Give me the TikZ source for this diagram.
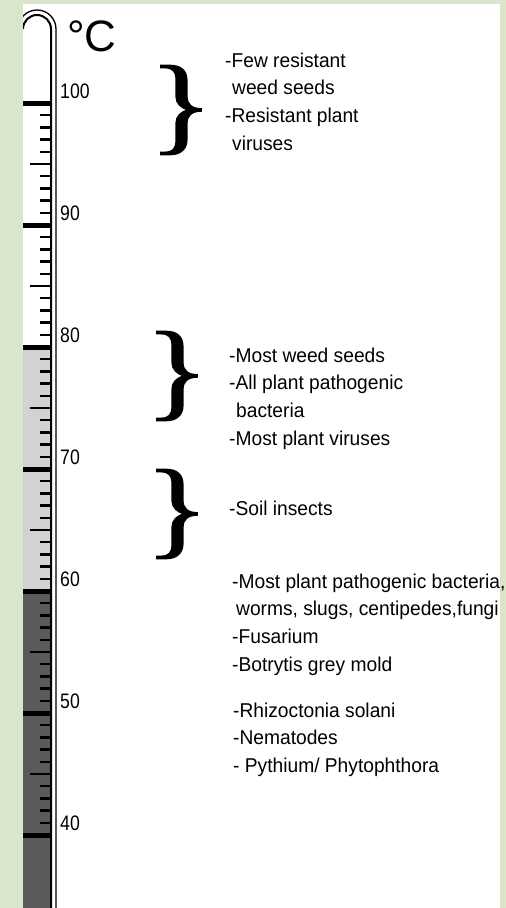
\documentclass[tikz,border=0pt]{standalone}
\usepackage{fontspec}
\usepackage{xcolor}
\usepackage{tikz}
\usetikzlibrary{positioning}
\setmainfont{Liberation Sans}
\newfontfamily\txtfont[FakeStretch=0.96]{Liberation Sans}
\newfontfamily\numfont[FakeStretch=0.84]{Liberation Sans}
\newfontfamily\bracefont[FakeStretch=1.25,FakeBold=1.2]{Liberation Serif}
\definecolor{leaf}{HTML}{D9E6CC}
\definecolor{rim}{HTML}{F2DDBF}
\definecolor{lowfill}{HTML}{D2D2D2}
\definecolor{highfill}{HTML}{5A5A5A}

\begin{document}
\begin{tikzpicture}[x=1pt,y=-1pt,
  txt/.style={font=\txtfont\fontsize{20}{27.7}\selectfont,align=left,inner sep=0,anchor=north west},
  deg/.style={font=\numfont\fontsize{21}{21}\selectfont,inner sep=0,anchor=west},
  brc/.style={font=\bracefont\fontsize{108}{108}\selectfont,inner sep=0},
  major/.style={line width=5pt},
  minor/.style={line width=2.5pt}]
 \useasboundingbox (0,0) rectangle (506,908);
 % page
 \fill[leaf] (0,0) rectangle (506,908);
 \fill[white] (23,3) rectangle (500,908);
 \draw[rim,line width=1pt] (23,3)--(500,3);
 % thermometer
 \begin{scope}
  \clip (23,3) rectangle (500,908);
  \fill[lowfill] (23,347) rectangle (51,589);
  \fill[highfill] (23,589) rectangle (51,908);
  \foreach \k in {0,...,60}{
    \pgfmathsetmacro\ty{835-\k*12.2}
    \pgfmathtruncatemacro\r{mod(\k,10)}
    \ifnum\r=0
      \draw[major] (23,\ty)--(51,\ty);
    \else\ifnum\r=5
      \draw[minor] (30,\ty)--(51,\ty);
    \else
      \draw[minor] (40,\ty)--(51,\ty);
    \fi\fi}
  \draw[line width=2pt] (51,908)--(51,29) arc[start angle=0,end angle=-180,radius=14];
  \draw[line width=1.3pt] (56,908)--(56,29) arc[start angle=0,end angle=-180,radius=19];
 \end{scope}
 \node[font=\fontsize{44}{44}\selectfont,inner sep=0,anchor=base west] (unit) at (67,51) {°C};
 \foreach \v in {100,90,...,40}
   \node[deg] (t\v) at (60,{91+(100-\v)*12.2}) {\v};
 % braces
 \node[brc] (br1) at (181,110) {\}};
 \node[brc] (br2) at (177,376) {\}};
 \node[brc] (br3) at (177,514) {\}};
 % what dies
 \node[txt] (kill100) at (225,52.4) {-Few resistant\\\hspace*{0.35em}weed seeds\\-Resistant plant\\\hspace*{0.35em}viruses};
 \node[txt] (kill80) at (229,347.4) {-Most weed seeds\\-All plant pathogenic\\\hspace*{0.35em}bacteria\\-Most plant viruses};
 \node[txt] (kill70) at (229,500.4) {-Soil insects};
 \node[txt] (kill60) at (232,573.4) {-Most plant pathogenic bacteria,\\\hspace*{0.2em}worms, slugs, centipedes,fungi\\-Fusarium\\-Botrytis grey mold};
 \node[txt] (kill50) at (233,702.4) {-Rhizoctonia solani\\-Nematodes\\- Pythium/ Phytophthora};
\end{tikzpicture}
\end{document}
